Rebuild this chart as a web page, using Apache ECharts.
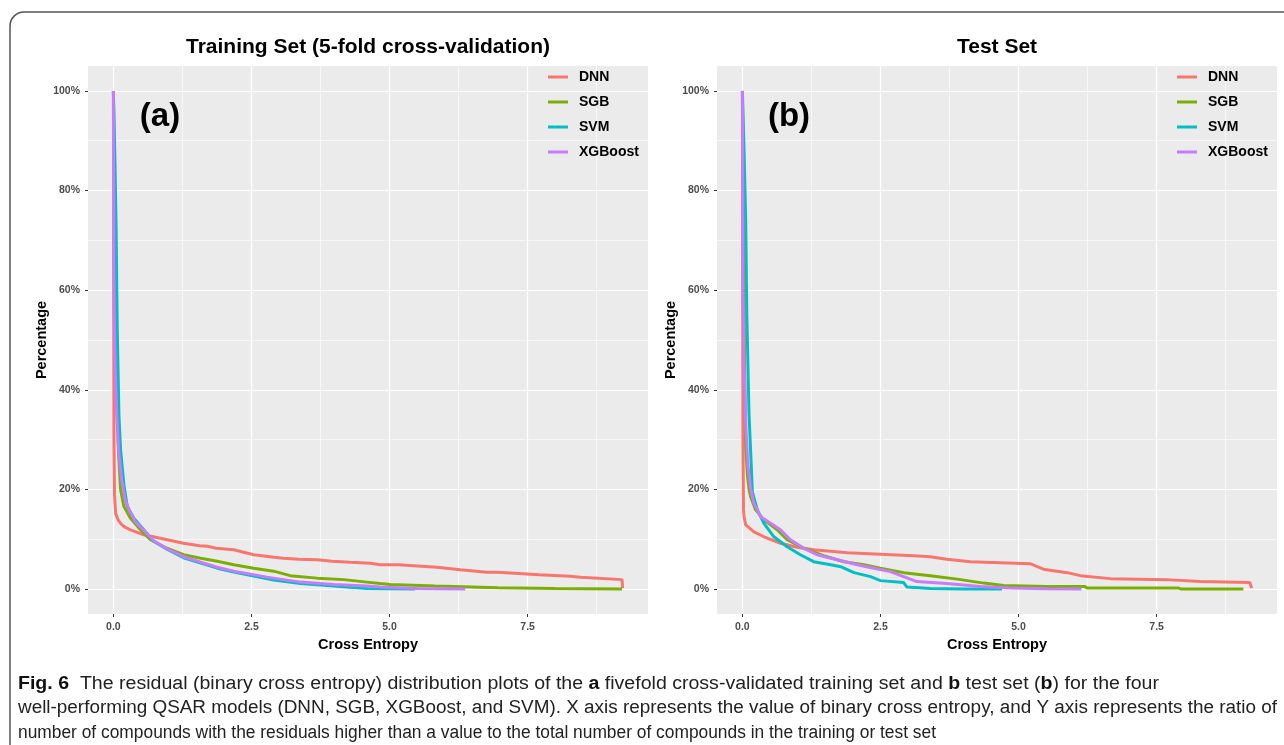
<!DOCTYPE html>
<html lang="en">
<head>
  <meta charset="UTF-8">
  <title>residual distribution</title>
  <style>
  html, body { margin: 0; padding: 0; background: #fff; }
  #main { width: 1284px; height: 745px; }
  </style>
  <script src="https://cdn.jsdelivr.net/npm/echarts@6/dist/echarts.min.js"></script>
</head>
<body>
  <div id="main"></div>
  <script>
  var models = ['DNN', 'SGB', 'SVM', 'XGBoost'];
  var colors = ['#F8766D', '#7CAE00', '#00BFC4', '#C77CFF'];
  var xTicks = [0, 2.5, 5, 7.5];
  var xMinor = [1.25, 3.75, 6.25, 8.75];
  var yTicks = [0, 20, 40, 60, 80, 100];
  var yMinor = [10, 30, 50, 70, 90];

  // (a) training set: [cross entropy, percentage]
  var trainDNN = [[0,100],[0.005,60],[0.01,30],[0.02,19],[0.04,15.2],[0.08,14],[0.13,13.2],[0.2,12.5],[0.31,11.9],[0.55,10.9],[0.85,10.2],[1.27,9.2],[1.56,8.7],[1.7,8.6],[1.86,8.2],[2.18,7.9],[2.54,6.9],[2.91,6.4],[3.08,6.2],[3.36,6.0],[3.69,5.9],[3.96,5.6],[4.29,5.4],[4.65,5.2],[4.83,4.9],[5.16,4.9],[5.86,4.4],[6.28,3.9],[6.76,3.4],[6.96,3.4],[7.71,2.9],[8.27,2.6],[8.46,2.4],[9.21,1.9],[9.22,0.2]];
  var trainSGB = [[0,100],[0.02,80],[0.04,55],[0.06,40],[0.09,28],[0.13,20],[0.19,16.6],[0.31,14.2],[0.49,11.9],[0.67,9.9],[0.97,8.2],[1.27,6.9],[1.58,6.2],[1.88,5.6],[2.18,4.9],[2.54,4.2],[2.9,3.6],[3.2,2.7],[3.69,2.2],[4.17,1.9],[4.59,1.4],[4.83,1.1],[5.01,0.9],[5.83,0.6],[6.96,0.25],[8.0,0.1],[9.21,0]];
  var trainSVM = [[0,100],[0.03,85],[0.05,72],[0.07,52],[0.1,35],[0.13,28],[0.19,21],[0.25,16.6],[0.37,14.2],[0.55,11.9],[0.73,9.6],[0.97,8.0],[1.27,6.3],[1.58,5.2],[1.88,4.2],[2.18,3.4],[2.54,2.6],[2.9,1.8],[3.39,1.1],[3.99,0.6],[4.59,0.1],[5.46,0]];
  var trainXGB = [[0,100],[0.01,60],[0.03,45],[0.06,35],[0.1,27],[0.15,22],[0.21,18],[0.3,15.5],[0.4,13.5],[0.55,11.8],[0.73,9.7],[0.97,8.1],[1.27,6.5],[1.58,5.4],[1.88,4.4],[2.18,3.6],[2.54,2.9],[2.78,2.4],[3.39,1.4],[3.99,0.9],[4.59,0.6],[4.83,0.4],[5.5,0.1],[6.37,0]];

  // (b) test set
  var testDNN = [[0,100],[0.005,60],[0.01,30],[0.02,16],[0.03,14.5],[0.06,12.9],[0.21,11.5],[0.39,10.5],[0.69,9.2],[0.99,8.4],[1.29,7.9],[1.9,7.3],[2.5,7.0],[3.1,6.7],[3.4,6.5],[3.7,6.0],[4.13,5.5],[4.67,5.3],[5.21,5.1],[5.45,4.0],[5.88,3.3],[6.12,2.7],[6.66,2.1],[7.68,1.9],[8.29,1.5],[9.19,1.3],[9.22,0.2]];
  var testSGB = [[0,100],[0.02,75],[0.04,45],[0.06,28.5],[0.09,23],[0.12,20],[0.15,18.5],[0.24,15.9],[0.39,13.9],[0.63,11.9],[0.81,9.9],[1.11,8.2],[1.47,6.7],[1.84,5.5],[2.2,4.9],[2.5,4.2],[2.92,3.3],[3.4,2.7],[3.89,2.0],[4.37,1.2],[4.73,0.7],[5.5,0.5],[6.2,0.5],[6.25,0.2],[7.9,0.2],[7.95,0],[9.07,0]];
  var testSVM = [[0,100],[0.03,88],[0.06,74],[0.08,55],[0.12,35],[0.16,25],[0.18,19.5],[0.27,15.9],[0.39,13.2],[0.57,10.5],[0.81,8.5],[1.05,6.9],[1.29,5.5],[1.6,4.9],[1.78,4.5],[2.02,3.3],[2.32,2.5],[2.5,1.7],[2.92,1.3],[2.98,0.4],[3.4,0.1],[4.0,0],[4.7,0]];
  var testXGB = [[0,100],[0.01,60],[0.03,45],[0.06,33],[0.1,25],[0.15,20],[0.21,17.2],[0.33,14.5],[0.51,13.2],[0.69,11.9],[0.87,9.9],[1.11,8.2],[1.35,6.9],[1.72,5.9],[2.08,4.9],[2.38,4.2],[2.68,3.5],[2.92,2.5],[3.16,1.5],[3.7,1.1],[4.31,0.5],[4.85,0.2],[5.5,0.05],[6.14,0]];

  var panels = [
    { title: 'Training Set (5-fold cross-validation)', tag: '(a)', data: [trainDNN, trainSGB, trainSVM, trainXGB] },
    { title: 'Test Set', tag: '(b)', data: [testDNN, testSGB, testSVM, testXGB] }
  ];

  var font = 'Liberation Sans, Arial, sans-serif';
  var gridLeft = [88, 717];
  var gridW = 560;

  var grids = [], xAxes = [], yAxes = [], series = [], legends = [], graphics = [];

  // border round the figure
  graphics.push({
    type: 'rect', shape: { x: 10, y: 12, width: 1300, height: 800, r: 14 },
    style: { fill: 'none', stroke: '#555', lineWidth: 1.5 }, silent: true
  });

  panels.forEach(function (p, g) {
    grids.push({ left: gridLeft[g], top: 66, width: gridW, height: 548, show: true, backgroundColor: '#EBEBEB', borderWidth: 0 });

    xAxes.push({
      type: 'value', gridIndex: g, min: -0.46, max: 9.68,
      axisLine: { show: false, onZero: false },
      axisTick: { show: true, length: 3, customValues: xTicks, lineStyle: { color: '#333' } },
      axisLabel: { customValues: xTicks, margin: 8, fontSize: 10.5, fontWeight: 'bold', color: '#4d4d4d', fontFamily: font,
        formatter: function (v) { return v.toFixed(1); } },
      splitLine: { show: true, lineStyle: { color: '#fff', width: 1.2 } },
      name: 'Cross Entropy', nameLocation: 'middle', nameGap: 21,
      nameTextStyle: { fontSize: 14.5, fontWeight: 'bold', color: '#000', fontFamily: font }
    });
    xAxes.push({
      type: 'value', gridIndex: g, min: -0.46, max: 9.68,
      axisLine: { show: false, onZero: false },
      axisTick: { show: false, customValues: xMinor },
      axisLabel: { show: false, customValues: xMinor },
      splitLine: { show: true, lineStyle: { color: '#fff', width: 0.6 } }
    });
    yAxes.push({
      type: 'value', gridIndex: g, min: -5, max: 105,
      axisLine: { show: false, onZero: false },
      axisTick: { show: true, length: 3, customValues: yTicks, lineStyle: { color: '#333' } },
      axisLabel: { customValues: yTicks, margin: 8, fontSize: 10.5, fontWeight: 'bold', color: '#4d4d4d', fontFamily: font,
        formatter: function (v) { return v + '%'; } },
      splitLine: { show: true, lineStyle: { color: '#fff', width: 1.2 } },
      name: 'Percentage', nameLocation: 'middle', nameGap: 39, nameRotate: 90,
      nameTextStyle: { fontSize: 14.5, fontWeight: 'bold', color: '#000', fontFamily: font }
    });
    yAxes.push({
      type: 'value', gridIndex: g, min: -5, max: 105,
      axisLine: { show: false, onZero: false },
      axisTick: { show: false, customValues: yMinor },
      axisLabel: { show: false, customValues: yMinor },
      splitLine: { show: true, lineStyle: { color: '#fff', width: 0.6 } }
    });

    models.forEach(function (m, i) {
      series.push({
        name: m, type: 'line', xAxisIndex: 2 * g, yAxisIndex: 2 * g,
        data: p.data[i], symbol: 'none', showSymbol: false,
        lineStyle: { width: 3, color: colors[i] }, itemStyle: { color: colors[i] },
        z: 2 + i
      });
    });

    legends.push({
      data: models, orient: 'vertical', left: gridLeft[g] + gridW - 105, top: 65,
      icon: 'rect', itemWidth: 20, itemHeight: 3, itemGap: 11, selectedMode: false,
      textStyle: { fontSize: 14, fontWeight: 'bold', color: '#000', fontFamily: font, padding: [0, 0, 0, 6] }
    });

    graphics.push({
      type: 'text', x: gridLeft[g] + gridW / 2, y: 47, silent: true,
      style: { text: p.title, fontSize: 21, fontWeight: 'bold', fontFamily: font, fill: '#000', align: 'center', verticalAlign: 'middle' }
    });
    graphics.push({
      type: 'text', x: gridLeft[g] + 72, y: 117, silent: true,
      style: { text: p.tag, fontSize: 33, fontWeight: 'bold', fontFamily: font, fill: '#000', align: 'center', verticalAlign: 'middle' }
    });
  });

  // caption, each line stretched to the width it has in the figure
  var capFont = '"Liberation Sans", Arial, sans-serif';
  var capSize = 18;
  var capLines = [
    '{b|Fig. 6}  The residual (binary cross entropy) distribution plots of the {b|a} fivefold cross-validated training set and {b|b} test set ({b|b}) for the four',
    'well-performing QSAR models (DNN, SGB, XGBoost, and SVM). X axis represents the value of binary cross entropy, and Y axis represents the ratio of',
    'number of compounds with the residuals higher than a value to the total number of compounds in the training or test set'
  ];
  var capEnds = [1159, 1277, 936];
  var ctx = document.createElement('canvas').getContext('2d');
  function textWidth(t) {
    var w = 0;
    t.split(/(\{b\|[^}]*\})/).forEach(function (seg) {
      var m = seg.match(/^\{b\|([^}]*)\}$/);
      ctx.font = (m ? 'bold ' : '') + capSize + 'px ' + capFont;
      w += ctx.measureText(m ? m[1] : seg).width;
    });
    return w;
  }
  capLines.forEach(function (t, i) {
    graphics.push({
      type: 'text', x: 18, y: 684 + i * 24.5, silent: true,
      scaleX: (capEnds[i] - 18) / textWidth(t),
      style: {
        text: t, fontSize: capSize, fontFamily: capFont, fill: '#222', verticalAlign: 'middle',
        rich: { b: { fontSize: capSize, fontFamily: capFont, fontWeight: 'bold', fill: '#111' } }
      }
    });
  });

  var chart = echarts.init(document.getElementById('main'));
  chart.setOption({
    animation: false,
    backgroundColor: '#fff',
    grid: grids,
    xAxis: xAxes,
    yAxis: yAxes,
    legend: legends,
    series: series,
    graphic: graphics
  });
  </script>
</body>
</html>
